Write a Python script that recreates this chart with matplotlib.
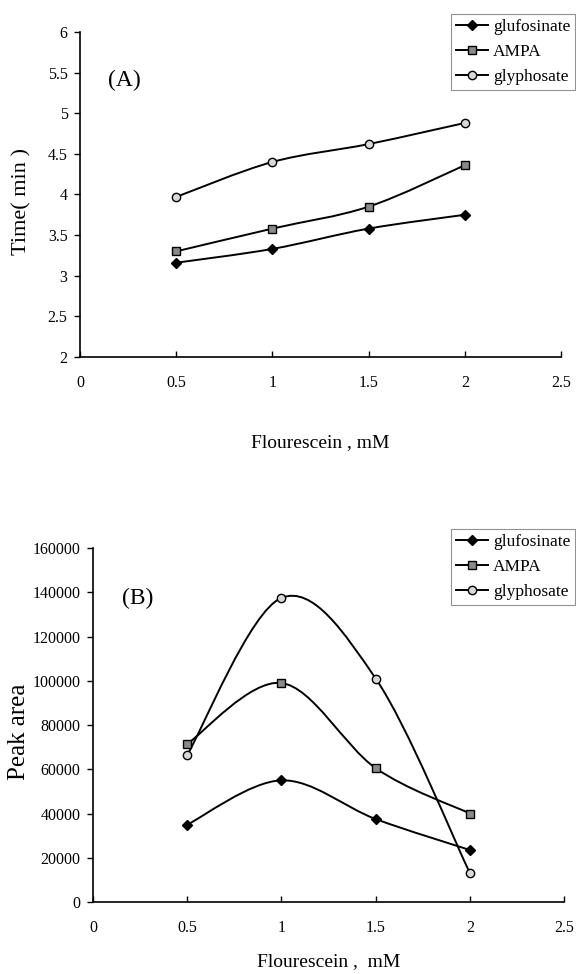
import matplotlib
matplotlib.use("Agg")
import matplotlib.pyplot as plt
from matplotlib.path import Path
from matplotlib.patches import PathPatch
from matplotlib.ticker import FuncFormatter

plt.rcParams['font.family'] = ['Liberation Serif', 'DejaVu Serif']

conc = [0.5, 1.0, 1.5, 2.0]
series = ['glufosinate', 'AMPA', 'glyphosate']

# (A) migration time, min
time_glufosinate = [3.16, 3.33, 3.58, 3.75]
time_ampa = [3.30, 3.58, 3.85, 4.36]
time_glyphosate = [3.97, 4.40, 4.62, 4.88]

# (B) peak area
area_glufosinate = [35000, 55000, 37500, 23500]
area_ampa = [71500, 99000, 60500, 40000]
area_glyphosate = [66500, 137500, 101000, 13000]

x_ticks = [0, 0.5, 1, 1.5, 2, 2.5]
time_ticks = [2, 2.5, 3, 3.5, 4, 4.5, 5, 5.5, 6]
area_ticks = [0, 20000, 40000, 60000, 80000, 100000, 120000, 140000, 160000]

markers = {
    'glufosinate': dict(marker='D', markersize=5, markerfacecolor='black', markeredgecolor='black'),
    'AMPA': dict(marker='s', markersize=6, markerfacecolor='#8a8a8a', markeredgecolor='black'),
    'glyphosate': dict(marker='o', markersize=6, markerfacecolor='#d8d8d8', markeredgecolor='black'),
}


def smooth_path(xs, ys):
    # Catmull-Rom style bezier, like a spreadsheet "smoothed line"
    pts = list(zip(xs, ys))
    verts = [pts[0]]
    codes = [Path.MOVETO]
    n = len(pts)
    for i in range(n - 1):
        p0 = pts[i - 1] if i > 0 else pts[i]
        p1 = pts[i]
        p2 = pts[i + 1]
        p3 = pts[i + 2] if i + 2 < n else pts[i + 1]
        c1 = (p1[0] + (p2[0] - p0[0]) / 6, p1[1] + (p2[1] - p0[1]) / 6)
        c2 = (p2[0] - (p3[0] - p1[0]) / 6, p2[1] - (p3[1] - p1[1]) / 6)
        verts += [c1, c2, p2]
        codes += [Path.CURVE4] * 3
    return Path(verts, codes)


def draw_panel(ax, data, yticks, ylim, ylabel, ylabel_size, ylabel_pos, tag, tag_pos):
    handles = []
    for name, ys in zip(series, data):
        ax.add_patch(PathPatch(smooth_path(conc, ys), fill=False, edgecolor='black', lw=1.4))
        ax.plot(conc, ys, linestyle='none', zorder=3, **markers[name])
        h, = ax.plot([], [], color='black', lw=1.4, label=name, **markers[name])
        handles.append(h)
    ax.set_xlim(0, 2.5)
    ax.set_ylim(*ylim)
    ax.set_xticks(x_ticks)
    ax.set_yticks(yticks)
    fmt = FuncFormatter(lambda v, p: '%g' % v)
    ax.xaxis.set_major_formatter(fmt)
    ax.yaxis.set_major_formatter(fmt)
    ax.spines['top'].set_visible(False)
    ax.spines['right'].set_visible(False)
    ax.spines['left'].set_linewidth(1.2)
    ax.spines['bottom'].set_linewidth(1.2)
    ax.tick_params(axis='y', labelsize=11.5, length=4, width=1, pad=5)
    ax.tick_params(axis='x', direction='in', labelsize=11.5, length=4, width=1, pad=13)
    ax.set_ylabel(ylabel, fontsize=ylabel_size)
    ax.yaxis.set_label_coords(*ylabel_pos)
    ax.text(tag_pos[0], tag_pos[1], tag, transform=ax.transAxes, fontsize=17)
    return handles


def add_legend(handles, top):
    leg = fig.legend(handles=handles, loc='upper right', bbox_to_anchor=(0.999, top),
                     fontsize=12.5, frameon=True, fancybox=False, edgecolor='#777777',
                     handlelength=1.8, handletextpad=0.3, borderpad=0.3, labelspacing=0.5,
                     borderaxespad=0)
    leg.get_frame().set_linewidth(0.8)
    return leg


fig = plt.figure(figsize=(5.76, 9.74), dpi=100)

ax1 = fig.add_axes([0.139, 0.6335, 0.835, 0.3337])
h1 = draw_panel(ax1, [time_glufosinate, time_ampa, time_glyphosate],
                time_ticks, (2, 6), 'Time( min )', 16, (-0.1, 0.477),
                '(A)', (0.058, 0.835))
ax1.set_xlabel('Flourescein , mM', fontsize=14, labelpad=31)
add_legend(h1, 0.986)

ax2 = fig.add_axes([0.1615, 0.0739, 0.818, 0.3634])
h2 = draw_panel(ax2, [area_glufosinate, area_ampa, area_glyphosate],
                area_ticks, (0, 160000), 'Peak area', 18, (-0.134, 0.48),
                '(B)', (0.062, 0.841))
ax2.set_xlabel('Flourescein ,  mM', fontsize=14, labelpad=12)
add_legend(h2, 0.457)

fig.savefig('out.png', dpi=100)
